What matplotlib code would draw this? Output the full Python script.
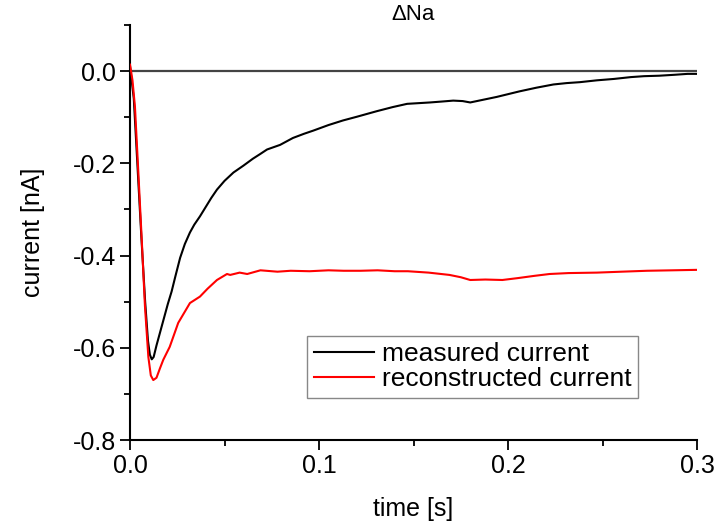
import matplotlib.pyplot as plt
from matplotlib.ticker import MultipleLocator

plt.rcParams['font.family'] = ['Liberation Sans', 'DejaVu Sans']

# measured current (black)
t_meas = [0.000, 0.002, 0.004, 0.006, 0.008, 0.0095, 0.0105, 0.0115, 0.0125, 0.014,
          0.016, 0.018, 0.020, 0.022, 0.024, 0.0265, 0.029, 0.0317, 0.034, 0.037,
          0.040, 0.043, 0.046, 0.050, 0.0547, 0.060, 0.065, 0.0688, 0.0725, 0.0794,
          0.0862, 0.092, 0.097, 0.105, 0.1127, 0.120, 0.1305, 0.139, 0.1466, 0.1587,
          0.165, 0.171, 0.176, 0.180, 0.187, 0.194, 0.200, 0.206, 0.215, 0.224,
          0.231, 0.238, 0.247, 0.256, 0.265, 0.272, 0.280, 0.288, 0.295, 0.300]
i_meas = [0.010, -0.060, -0.210, -0.360, -0.500, -0.585, -0.615, -0.625, -0.620, -0.595,
          -0.565, -0.535, -0.505, -0.478, -0.445, -0.405, -0.375, -0.350, -0.333, -0.315,
          -0.295, -0.275, -0.257, -0.238, -0.220, -0.205, -0.190, -0.180, -0.170, -0.160,
          -0.145, -0.136, -0.129, -0.117, -0.107, -0.099, -0.087, -0.078, -0.071, -0.068,
          -0.066, -0.064, -0.065, -0.068, -0.062, -0.056, -0.050, -0.044, -0.036, -0.029,
          -0.026, -0.024, -0.020, -0.017, -0.013, -0.011, -0.010, -0.008, -0.006, -0.006]

# reconstructed current (red)
t_rec = [0.000, 0.0013, 0.0026, 0.0044, 0.0062, 0.0079, 0.0097, 0.011, 0.0123, 0.014,
         0.0158, 0.0176, 0.021, 0.0255, 0.0317, 0.037, 0.041, 0.046, 0.0513, 0.053,
         0.058, 0.062, 0.069, 0.078, 0.085, 0.095, 0.105, 0.113, 0.122, 0.131,
         0.140, 0.147, 0.158, 0.169, 0.175, 0.180, 0.188, 0.197, 0.205, 0.214,
         0.222, 0.232, 0.247, 0.260, 0.2735, 0.287, 0.300]
i_rec = [0.014, -0.020, -0.077, -0.220, -0.366, -0.510, -0.620, -0.660, -0.670, -0.665,
         -0.645, -0.626, -0.598, -0.546, -0.503, -0.489, -0.472, -0.453, -0.440, -0.442,
         -0.437, -0.440, -0.432, -0.435, -0.433, -0.434, -0.432, -0.433, -0.433, -0.432,
         -0.434, -0.434, -0.437, -0.442, -0.447, -0.453, -0.452, -0.453, -0.449, -0.444,
         -0.440, -0.438, -0.437, -0.435, -0.433, -0.432, -0.431]

fig = plt.figure(figsize=(7.16, 5.25), dpi=100)
ax = fig.add_axes([0.1816, 0.1619, 0.7919, 0.7905])

ax.axhline(0, color='#444444', lw=1.6, zorder=1)
ax.plot(t_meas, i_meas, color='black', lw=1.5, label='measured current', zorder=2)
ax.plot(t_rec, i_rec, color='red', lw=1.5, label='reconstructed current', zorder=3)

ax.set_xlim(0, 0.3)
ax.set_ylim(-0.8, 0.1)
ax.xaxis.set_major_locator(MultipleLocator(0.1))
ax.xaxis.set_minor_locator(MultipleLocator(0.05))
ax.yaxis.set_major_locator(MultipleLocator(0.2))
ax.yaxis.set_minor_locator(MultipleLocator(0.1))
ax.tick_params(which='major', length=7, width=1.3, labelsize=18, direction='out', pad=3)
ax.tick_params(which='minor', length=4, width=1.3, direction='out')
ax.yaxis.set_major_formatter(plt.FuncFormatter(lambda v, p: '%.1f' % v))
ax.xaxis.set_major_formatter(plt.FuncFormatter(lambda v, p: '%.1f' % v))

for s in ['top', 'right']:
    ax.spines[s].set_visible(False)
for s in ['left', 'bottom']:
    ax.spines[s].set_linewidth(1.5)

ax.set_xlabel('time [s]', fontsize=18, labelpad=14)
ax.set_ylabel('current [nA]', fontsize=18, labelpad=20)
ax.set_title('\u0394Na', fontsize=16, pad=3)

leg = ax.legend(loc='lower left', bbox_to_anchor=(0.312, 0.101), fontsize=19,
                frameon=True, fancybox=False, edgecolor='#888888', framealpha=1,
                handlelength=2.3, handletextpad=0.3, borderpad=0.25,
                labelspacing=0.05, borderaxespad=0)
leg.get_frame().set_linewidth(1.0)

fig.savefig('out.png', dpi=100)
